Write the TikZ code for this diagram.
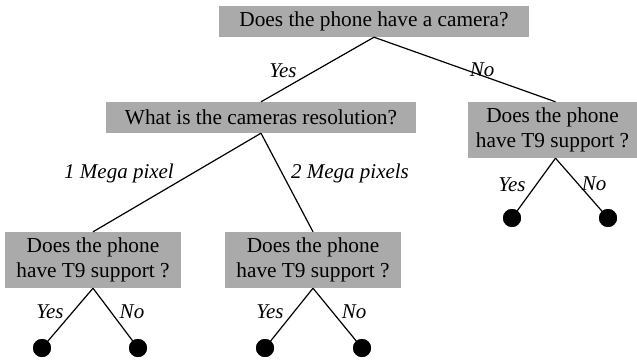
\documentclass[tikz,border=0pt]{standalone}
\usepackage{fontspec}
\setmainfont{Liberation Serif}
\definecolor{boxgray}{RGB}{170,170,170}
\tikzset{
  qbox/.style={fill=boxgray, inner sep=0pt, align=center, font=\fontsize{21.3}{24.5}\selectfont},
  elabel/.style={font=\fontsize{21}{23}\selectfont\itshape, inner sep=0pt},
  leaf/.style={circle, fill=black, minimum size=18pt, inner sep=0pt},
  edge/.style={draw=black, line width=1.2pt}
}
\begin{document}
\begin{tikzpicture}[x=1pt,y=-1pt]
\useasboundingbox[fill=white] (0,0) rectangle (637,359);
% question boxes
\node[qbox, minimum width=310pt, minimum height=31pt] (q1) at (374,21.5) {Does the phone have a camera?};
\node[qbox, minimum width=310pt, minimum height=31pt] (q2) at (261,117.5) {What is the cameras resolution?};
\node[qbox, minimum width=169pt, minimum height=56pt] (q3) at (552.5,130) {Does the phone\\have T9 support ?};
\node[qbox, minimum width=176pt, minimum height=56pt] (q4) at (93,260) {Does the phone\\have T9 support ?};
\node[qbox, minimum width=176pt, minimum height=56pt] (q5) at (313,260) {Does the phone\\have T9 support ?};
% leaves
\node[leaf] (l1) at (42,348) {};
\node[leaf] (l2) at (138,348) {};
\node[leaf] (l3) at (265,348) {};
\node[leaf] (l4) at (362,348) {};
\node[leaf] (l5) at (512,218) {};
\node[leaf] (l6) at (608,218) {};
% connectors
\draw[edge] (q1.south) -- (q2.north);
\draw[edge] (q1.south) -- ([xshift=3pt]q3.north);
\draw[edge] (q2.south) -- (q4.north);
\draw[edge] (q2.south) -- (q5.north);
\draw[edge] (q4.south) -- (l1.center);
\draw[edge] (q4.south) -- (l2.center);
\draw[edge] (q5.south) -- (l3.center);
\draw[edge] (q5.south) -- (l4.center);
\draw[edge] ([xshift=3pt]q3.south) -- (l5.center);
\draw[edge] ([xshift=3pt]q3.south) -- (l6.center);
% redraw leaves on top
\fill (l1) circle (9pt); \fill (l2) circle (9pt); \fill (l3) circle (9pt);
\fill (l4) circle (9pt); \fill (l5) circle (9pt); \fill (l6) circle (9pt);
% edge labels
\node[elabel] (t1) at (283,71) {Yes};
\node[elabel] (t2) at (482,70) {No};
\node[elabel] (t3) at (119,173) {1 Mega pixel};
\node[elabel] (t4) at (350,173) {2 Mega pixels};
\node[elabel] (t5) at (50,312) {Yes};
\node[elabel] (t6) at (132,312) {No};
\node[elabel] (t7) at (270,312) {Yes};
\node[elabel] (t8) at (354,312) {No};
\node[elabel] (t9) at (512,185) {Yes};
\node[elabel] (t10) at (594,184) {No};
\end{tikzpicture}
\end{document}
